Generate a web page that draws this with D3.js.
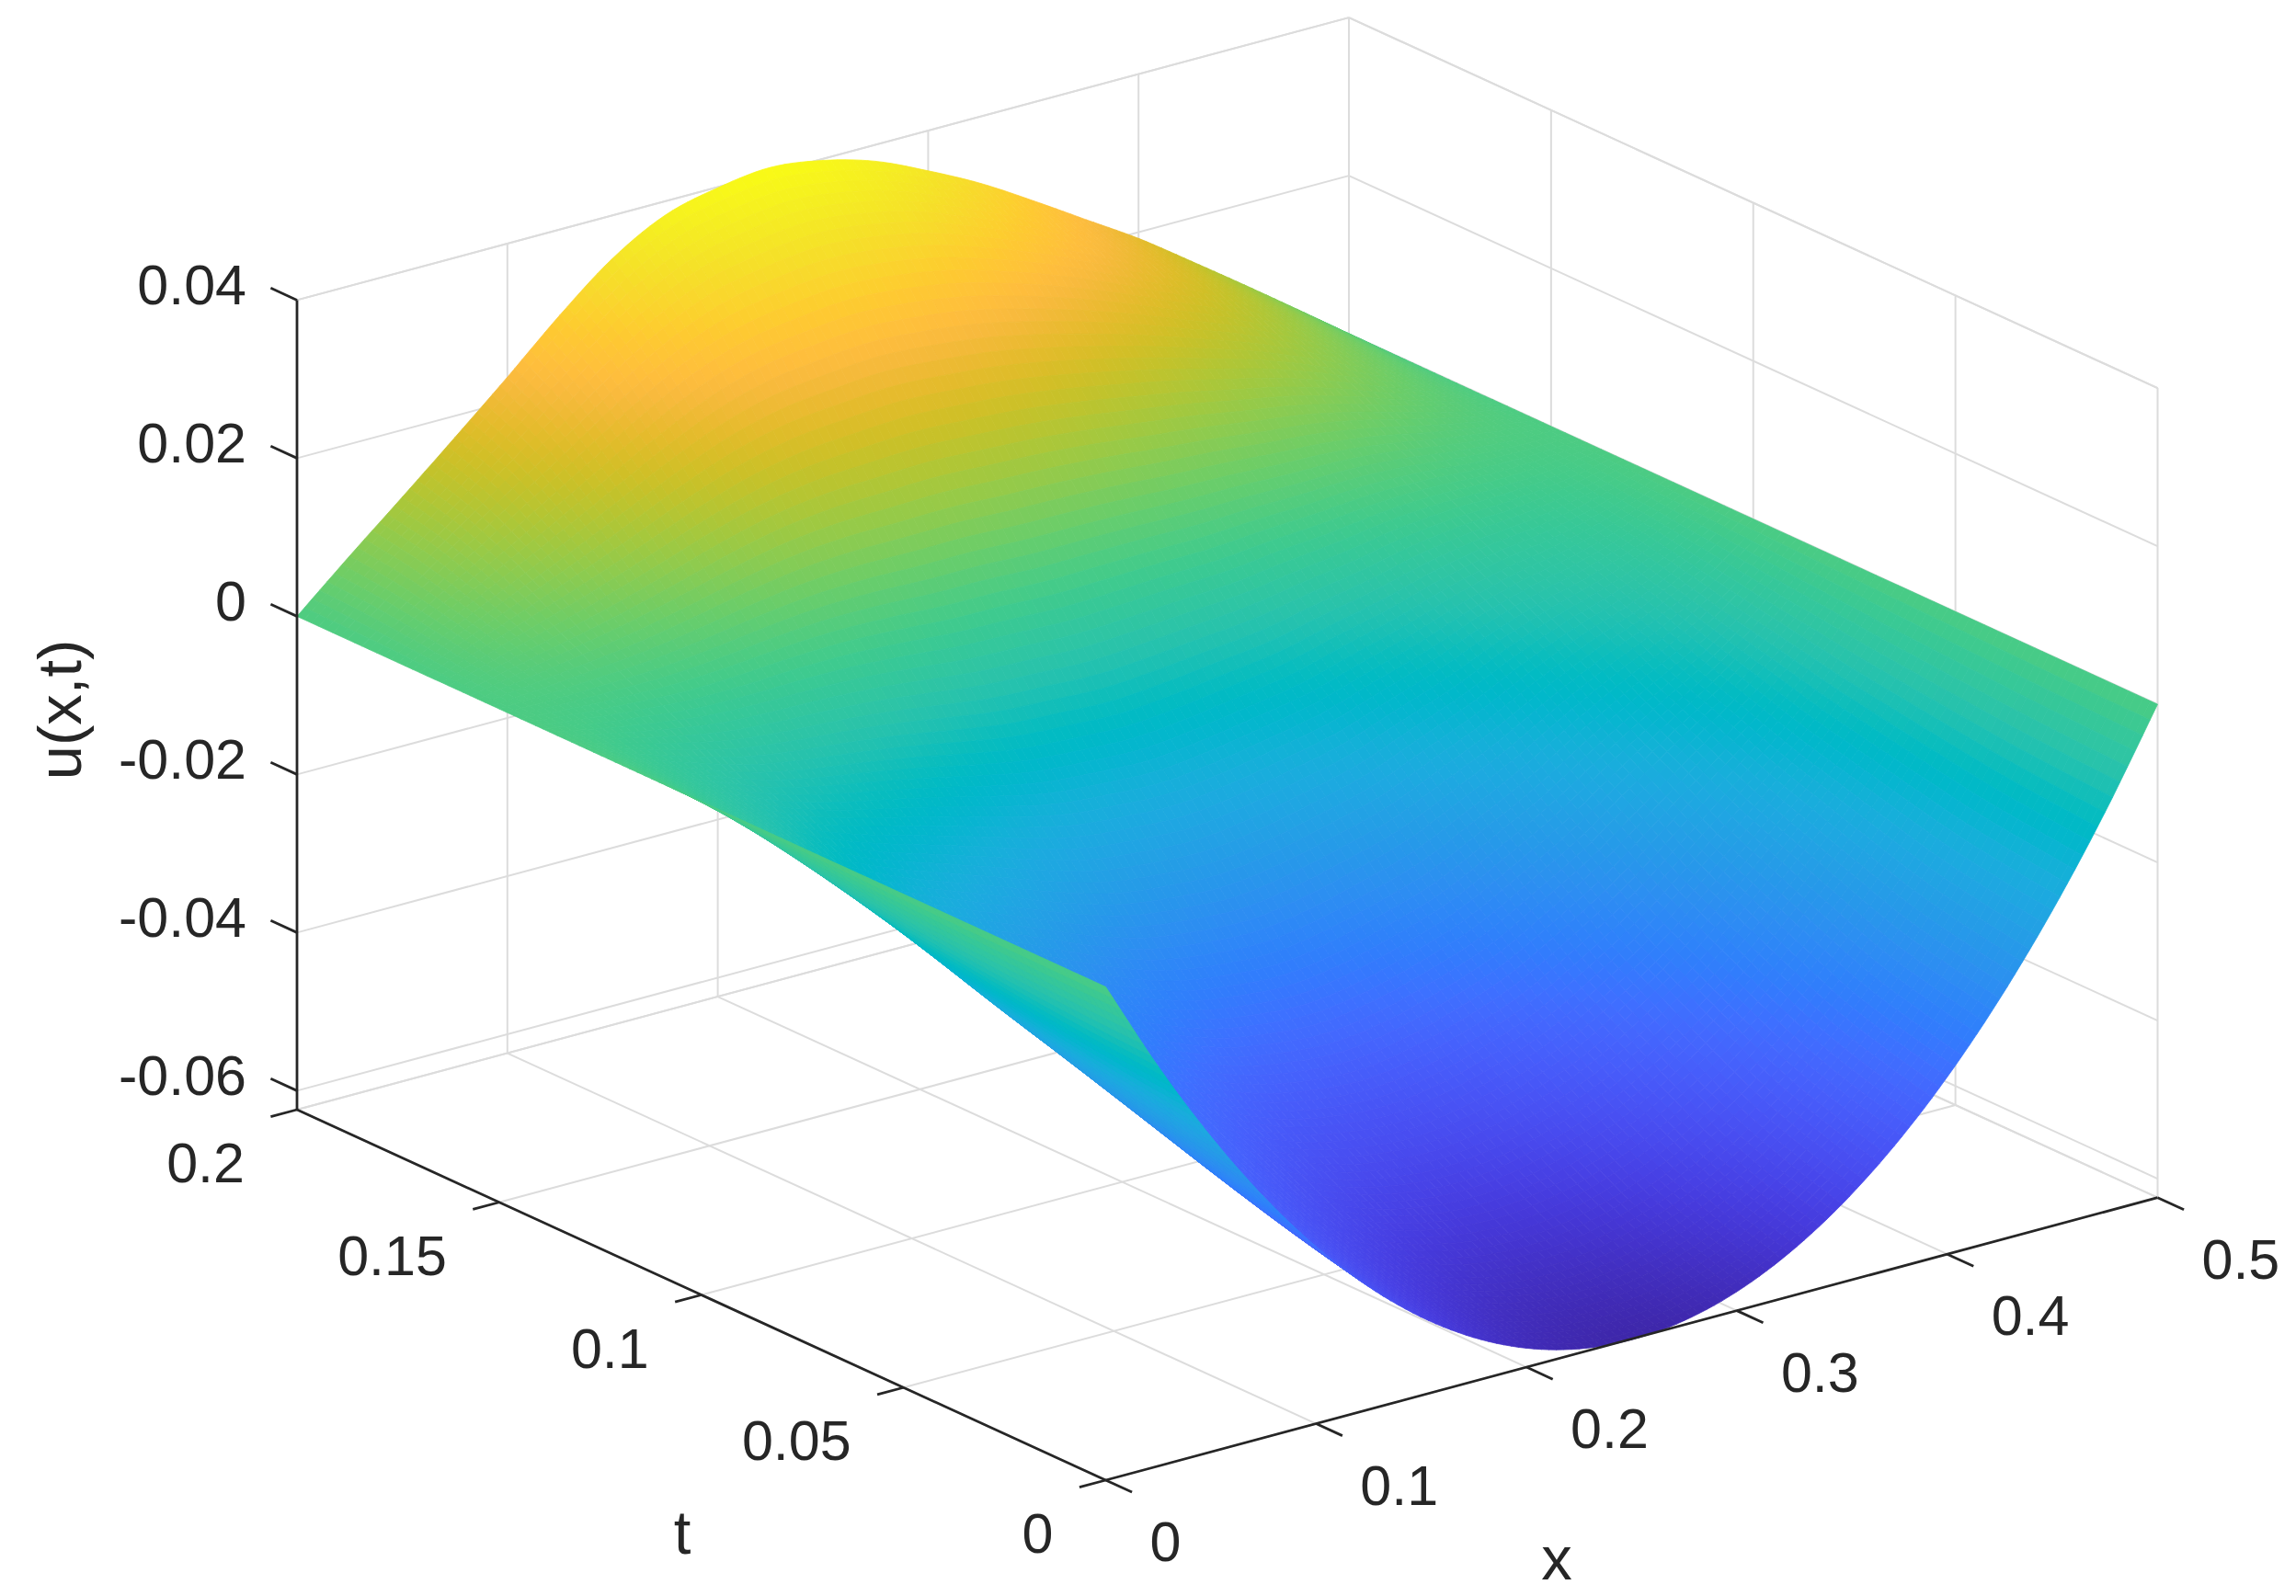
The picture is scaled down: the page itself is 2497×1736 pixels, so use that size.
<!DOCTYPE html>
<html>
<head>
<meta charset="utf-8">
<script src="https://cdnjs.cloudflare.com/ajax/libs/d3/7.8.5/d3.min.js"></script>
<style>
body { margin: 0; background: #fff; }
text { font-family: "Liberation Sans", Arial, sans-serif; fill: #262626; }
</style>
</head>
<body>
<script>
const xTicks = [0, 0.1, 0.2, 0.3, 0.4, 0.5];
const tTicks = [0, 0.05, 0.1, 0.15, 0.2];
const uTicks = [-0.06, -0.04, -0.02, 0, 0.02, 0.04];
const xTickLabels = ["0", "0.1", "0.2", "0.3", "0.4", "0.5"];
const tTickLabels = ["0", "0.05", "0.1", "0.15", "0.2"];
const uTickLabels = ["-0.06", "-0.04", "-0.02", "0", "0.02", "0.04"];

const xValues = [0, 0.025, 0.05, 0.075, 0.1, 0.125, 0.15, 0.175, 0.2, 0.225, 0.25, 0.275, 0.3, 0.325, 0.35, 0.375, 0.4, 0.425, 0.45, 0.475, 0.5];
const tValues = [0, 0.0125, 0.025, 0.0375, 0.05, 0.0625, 0.075, 0.0875, 0.1, 0.1125, 0.125, 0.1375, 0.15, 0.1625, 0.175, 0.1875, 0.2];

// u(x,t), one row per t, one column per x
const uGrid = [
  [0, -0.01187, -0.0225, -0.03187, -0.04, -0.04687, -0.0525, -0.05687, -0.06, -0.06187, -0.0625, -0.06187, -0.06, -0.05687, -0.0525, -0.04687, -0.04, -0.03187, -0.0225, -0.01187, 0],
  [0, -0.01146, -0.02171, -0.03075, -0.03857, -0.04518, -0.0506, -0.05485, -0.05789, -0.0597, -0.0603, -0.05966, -0.05781, -0.05477, -0.0505, -0.04505, -0.03839, -0.03058, -0.02161, -0.01141, 0],
  [0, -0.01093, -0.0207, -0.02933, -0.03675, -0.04303, -0.0482, -0.05227, -0.0552, -0.05692, -0.0575, -0.05686, -0.05505, -0.05213, -0.048, -0.04278, -0.0364, -0.02898, -0.0205, -0.01085, 0],
  [0, -0.0103, -0.01951, -0.02764, -0.03454, -0.04035, -0.04523, -0.04917, -0.05203, -0.05366, -0.0542, -0.05345, -0.05158, -0.04872, -0.04463, -0.0396, -0.03349, -0.02659, -0.01891, -0.01006, 0],
  [0, -0.0096, -0.01818, -0.02576, -0.03207, -0.03738, -0.04192, -0.0457, -0.04848, -0.04999, -0.0505, -0.04965, -0.04773, -0.04496, -0.04093, -0.03613, -0.03033, -0.02401, -0.01718, -0.0092, 0],
  [0, -0.00884, -0.01675, -0.02372, -0.02943, -0.0342, -0.03838, -0.04197, -0.04463, -0.04603, -0.0465, -0.04556, -0.04363, -0.04097, -0.03704, -0.03251, -0.02706, -0.02135, -0.01539, -0.0083, 0],
  [0, -0.00784, -0.01485, -0.02103, -0.02596, -0.03005, -0.03375, -0.03705, -0.03954, -0.04078, -0.0412, -0.04021, -0.0383, -0.03582, -0.0321, -0.02797, -0.02302, -0.01808, -0.01316, -0.00716, 0],
  [0, -0.00677, -0.01282, -0.01816, -0.02228, -0.02569, -0.02885, -0.0318, -0.03405, -0.03513, -0.0355, -0.03451, -0.03271, -0.03048, -0.02706, -0.02341, -0.01902, -0.01488, -0.01095, -0.00603, 0],
  [0, -0.00547, -0.01035, -0.01463, -0.01781, -0.02039, -0.0229, -0.02537, -0.0273, -0.02817, -0.0285, -0.02756, -0.02596, -0.02408, -0.02112, -0.01807, -0.01443, -0.01121, -0.0084, -0.0047, 0],
  [0, -0.00412, -0.00779, -0.01098, -0.01322, -0.01498, -0.01679, -0.0187, -0.02025, -0.02091, -0.02119, -0.0204, -0.01911, -0.01765, -0.01528, -0.01294, -0.01012, -0.00781, -0.00599, -0.00341, 0],
  [0, -0.00286, -0.00538, -0.00753, -0.00888, -0.00986, -0.01096, -0.0123, -0.01346, -0.01392, -0.01419, -0.0136, -0.01266, -0.01166, -0.00993, -0.00829, -0.00628, -0.00481, -0.00384, -0.00226, 0],
  [0, -0.00131, -0.00241, -0.00327, -0.00353, -0.00354, -0.00376, -0.00434, -0.005, -0.00523, -0.00548, -0.00518, -0.00475, -0.00435, -0.00347, -0.00273, -0.00175, -0.0013, -0.00131, -0.0009, 0],
  [0, 0.00026, 0.0006, 0.00107, 0.00194, 0.00298, 0.00372, 0.00393, 0.00379, 0.0038, 0.00352, 0.00348, 0.00335, 0.00309, 0.00306, 0.00286, 0.00277, 0.00218, 0.00119, 0.00045, 0],
  [0, 0.00202, 0.00398, 0.00598, 0.00819, 0.01049, 0.01237, 0.01348, 0.01389, 0.01416, 0.01384, 0.01341, 0.01264, 0.01163, 0.01059, 0.00931, 0.00804, 0.00624, 0.00407, 0.00198, 0],
  [0, 0.00369, 0.0072, 0.0107, 0.01428, 0.01789, 0.02098, 0.02302, 0.02396, 0.02448, 0.02405, 0.02318, 0.0217, 0.01988, 0.01779, 0.01542, 0.01298, 0.01002, 0.00673, 0.00339, 0],
  [0, 0.00504, 0.00985, 0.01466, 0.0195, 0.02442, 0.02869, 0.0316, 0.03298, 0.03368, 0.03307, 0.03173, 0.02951, 0.0269, 0.02382, 0.02047, 0.01703, 0.01305, 0.00882, 0.00447, 0],
  [0, 0.00584, 0.01149, 0.01725, 0.02311, 0.02918, 0.03455, 0.03823, 0.03991, 0.0407, 0.0398, 0.0379, 0.03491, 0.03153, 0.02755, 0.02338, 0.01921, 0.01455, 0.00979, 0.00494, 0]
];

const parula = [[.2422,.1504,.6603],[.2504,.1650,.7076],[.2578,.1818,.7511],[.2647,.1978,.7952],[.2706,.2147,.8364],[.2751,.2342,.8710],[.2783,.2559,.8991],[.2803,.2782,.9221],[.2813,.3006,.9414],[.2810,.3228,.9579],[.2795,.3447,.9717],[.2760,.3667,.9829],[.2699,.3892,.9906],[.2602,.4123,.9952],[.2440,.4358,.9988],[.2206,.4603,.9973],[.1963,.4847,.9892],[.1834,.5074,.9798],[.1786,.5289,.9682],[.1764,.5499,.9520],[.1687,.5703,.9359],[.1540,.5902,.9218],[.1460,.6091,.9079],[.1380,.6276,.8973],[.1248,.6459,.8883],[.1113,.6635,.8763],[.0952,.6798,.8598],[.0689,.6948,.8394],[.0297,.7082,.8163],[.0036,.7203,.7917],[.0067,.7312,.7660],[.0433,.7411,.7394],[.0964,.7500,.7120],[.1408,.7584,.6842],[.1717,.7670,.6554],[.1938,.7758,.6251],[.2161,.7843,.5923],[.2470,.7918,.5567],[.2906,.7973,.5188],[.3406,.8008,.4789],[.3909,.8029,.4354],[.4456,.8024,.3909],[.5044,.7993,.3480],[.5616,.7942,.3045],[.6174,.7876,.2612],[.6720,.7793,.2227],[.7242,.7698,.1910],[.7738,.7598,.1646],[.8203,.7498,.1535],[.8634,.7406,.1596],[.9035,.7330,.1774],[.9393,.7288,.2100],[.9728,.7298,.2394],[.9956,.7434,.2371],[.9970,.7659,.2199],[.9952,.7861,.1967],[.9892,.8136,.1794],[.9786,.8386,.1764],[.9676,.8639,.1643],[.9610,.8890,.1537],[.9597,.9135,.1423],[.9628,.9373,.1265],[.9691,.9606,.1064],[.9769,.9839,.0805]];

const WIDTH = 2497;
const HEIGHT = 1736;
const svg = d3.select("body").append("svg").attr("width", WIDTH).attr("height", HEIGHT);

// box corners of the 3d view, in page pixels
const corner = [1202.5, 1610];
const xEnd = [2346.5, 1302.7];
const tEnd = [323, 1207];
const boxHeight = 880.6;
const uLim = [-0.0624, 0.04];

const xFrac = d3.scaleLinear().domain([0, 0.5]).range([0, 1]);
const tFrac = d3.scaleLinear().domain([0, 0.2]).range([0, 1]);
const uFrac = d3.scaleLinear().domain(uLim).range([0, 1]);

function project(x, t, u) {
  const a = xFrac(x), b = tFrac(t), c = uFrac(u);
  return [
    corner[0] + a * (xEnd[0] - corner[0]) + b * (tEnd[0] - corner[0]),
    corner[1] + a * (xEnd[1] - corner[1]) + b * (tEnd[1] - corner[1]) - c * boxHeight
  ];
}

const line3 = (p, q) => "M" + project(...p).join(",") + "L" + project(...q).join(",");

// grid on the two back walls and the floor
const gridPaths = [];
uTicks.concat(uLim).forEach(u => {
  gridPaths.push(line3([0, 0.2, u], [0.5, 0.2, u]));
  gridPaths.push(line3([0.5, 0.2, u], [0.5, 0, u]));
});
xTicks.forEach(x => {
  gridPaths.push(line3([x, 0.2, uLim[0]], [x, 0.2, uLim[1]]));
  gridPaths.push(line3([x, 0, uLim[0]], [x, 0.2, uLim[0]]));
});
tTicks.forEach(t => {
  gridPaths.push(line3([0.5, t, uLim[0]], [0.5, t, uLim[1]]));
  gridPaths.push(line3([0, t, uLim[0]], [0.5, t, uLim[0]]));
});
svg.append("g").selectAll("path").data(gridPaths).enter().append("path")
  .attr("d", d => d)
  .attr("fill", "none")
  .attr("stroke", "#dcdcdc")
  .attr("stroke-width", 2);

// surface, far cells first
const uExtent = d3.extent(uGrid.flat());
const colorPos = d3.scaleLinear().domain(uExtent).range([0, parula.length - 1]).clamp(true);
function surfaceColor(u) {
  const p = colorPos(u), i = Math.min(Math.floor(p), parula.length - 2), f = p - i;
  const c = parula[i].map((v, k) => 255 * (v + f * (parula[i + 1][k] - v)));
  return d3.rgb(c[0], c[1], c[2]).formatHex();
}
// smooth shading between the grid rows and columns
function spline(a, b, c, d, f) {
  return b + 0.5 * f * (c - a + f * (2 * a - 5 * b + 4 * c - d + f * (3 * (b - c) + d - a)));
}
function rowAt(row, j, fx) {
  const n = row.length;
  const a = j > 0 ? row[j - 1] : 2 * row[0] - row[1];
  const d = j + 2 < n ? row[j + 2] : 2 * row[n - 1] - row[n - 2];
  return spline(a, row[j], row[j + 1], d, fx);
}
function surfaceAt(i, ft, j, fx) {
  const m = uGrid.length;
  const b = rowAt(uGrid[i], j, fx), c = rowAt(uGrid[i + 1], j, fx);
  const a = i > 0 ? rowAt(uGrid[i - 1], j, fx) : 2 * b - c;
  const d = i + 2 < m ? rowAt(uGrid[i + 2], j, fx) : 2 * c - b;
  return spline(a, b, c, d, ft);
}
const SUB = 7;
const cells = [];
for (let i = tValues.length - 2; i >= 0; i--) {
  for (let s = SUB - 1; s >= 0; s--) {
    for (let j = xValues.length - 2; j >= 0; j--) {
      for (let r = SUB - 1; r >= 0; r--) {
        const at = (ss, rr) => {
          const ft = ss / SUB, fx = rr / SUB;
          const x = xValues[j] + fx * (xValues[j + 1] - xValues[j]);
          const t = tValues[i] + ft * (tValues[i + 1] - tValues[i]);
          return [x, t, surfaceAt(i, ft, j, fx)];
        };
        const pts = [at(s, r), at(s, r + 1), at(s + 1, r + 1), at(s + 1, r)];
        cells.push({
          d: "M" + pts.map(p => project(...p).map(v => v.toFixed(1)).join(",")).join("L") + "Z",
          c: surfaceColor(d3.mean(pts, p => p[2]))
        });
      }
    }
  }
}
svg.append("g").selectAll("path").data(cells).enter().append("path")
  .attr("d", d => d.d)
  .attr("fill", d => d.c)
  .attr("stroke", d => d.c)
  .attr("stroke-width", 0.8);

// axis lines and ticks
const axisPaths = [
  line3([0, 0.2, uLim[0]], [0, 0.2, uLim[1]]),
  line3([0, 0.2, uLim[0]], [0, 0, uLim[0]]),
  line3([0, 0, uLim[0]], [0.5, 0, uLim[0]])
];
uTicks.forEach(u => axisPaths.push(line3([0, 0.2, u], [0, 0.2065, u])));
tTicks.forEach(t => axisPaths.push(line3([0, t, uLim[0]], [-0.0125, t, uLim[0]])));
xTicks.forEach(x => axisPaths.push(line3([x, 0, uLim[0]], [x, -0.0065, uLim[0]])));
svg.append("g").selectAll("path").data(axisPaths).enter().append("path")
  .attr("d", d => d)
  .attr("fill", "none")
  .attr("stroke", "#262626")
  .attr("stroke-width", 2.8);

// tick labels, placed next to their ticks
const tickSize = 61;
svg.append("g").selectAll("text").data(uTicks).enter().append("text")
  .attr("x", 268)
  .attr("y", d => project(0, 0.2, d)[1] + 5)
  .attr("text-anchor", "end")
  .attr("font-size", tickSize)
  .text((d, i) => uTickLabels[i]);
svg.append("g").selectAll("text").data(tTicks).enter().append("text")
  .attr("x", d => project(0, d, uLim[0])[0] - 57)
  .attr("y", d => project(0, d, uLim[0])[1] + 79)
  .attr("text-anchor", "end")
  .attr("font-size", tickSize)
  .text((d, i) => tTickLabels[i]);
svg.append("g").selectAll("text").data(xTicks).enter().append("text")
  .attr("x", d => project(d, 0, uLim[0])[0] + 48)
  .attr("y", d => project(d, 0, uLim[0])[1] + 88)
  .attr("text-anchor", "start")
  .attr("font-size", tickSize)
  .text((d, i) => xTickLabels[i]);

// axis titles
const labelSize = 67;
svg.append("text").attr("x", 742).attr("y", 1690).attr("text-anchor", "middle").attr("font-size", labelSize).text("t");
svg.append("text").attr("x", 1693).attr("y", 1718).attr("text-anchor", "middle").attr("font-size", labelSize).text("x");
svg.append("text").attr("transform", "translate(88,772) rotate(-90)").attr("text-anchor", "middle").attr("font-size", labelSize).text("u(x,t)");
</script>
</body>
</html>
